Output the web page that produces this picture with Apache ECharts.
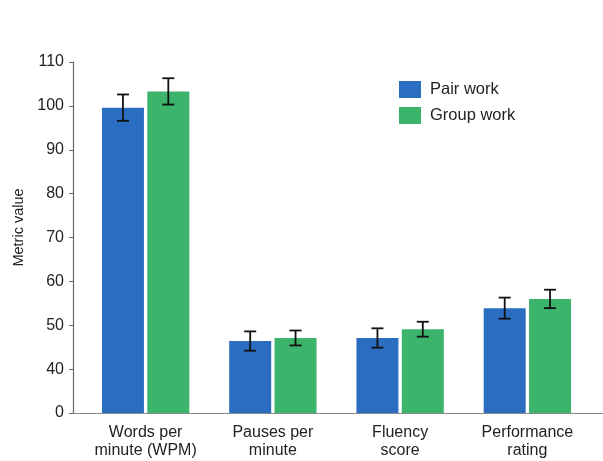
<!DOCTYPE html>
<html>
<head>
<meta charset="utf-8">
<script src="https://cdn.jsdelivr.net/npm/echarts@6/dist/echarts.min.js"></script>
<style>
  html, body { margin: 0; padding: 0; background: #fff; }
  #chart { width: 603px; height: 461px; }
</style>
</head>
<body>
<div id="chart"></div>
<script>
// Metrics compared between the two speaking-practice formats
const categories = ['Words per\nminute (WPM)', 'Pauses per\nminute', 'Fluency\nscore', 'Performance\nrating'];
const seriesNames = ['Pair work', 'Group work'];
const pairMeans = [99.6, 46.4, 47.1, 53.9];
const pairErrors = [3.0, 2.2, 2.2, 2.4];
const groupMeans = [103.3, 47.1, 49.1, 56.0];
const groupErrors = [3.0, 1.7, 1.7, 2.1];
const yTicks = [0, 40, 50, 60, 70, 80, 90, 100, 110];

// The value axis is broken: the span 0..40 is squeezed into one tick step,
// so the axis starts at 30 and that first tick is labelled "0".
const AXIS_START = 30;
const BAR_WIDTH = 42;
const BAR_GAP = 0.08;
const colors = ['#2b6dc1', '#3cb46b'];

function errorData(means, errs) {
  return means.map((m, i) => [i, m - errs[i], m + errs[i]]);
}

function errorBars(offsetSign) {
  return function (params, api) {
    const idx = api.value(0);
    const lo = api.coord([idx, api.value(1)]);
    const hi = api.coord([idx, api.value(2)]);
    const shift = offsetSign * (BAR_WIDTH * (1 + BAR_GAP)) / 2;
    const x = lo[0] + shift;
    const cap = 6;
    const style = { stroke: '#111', lineWidth: 1.8 };
    return {
      type: 'group',
      children: [
        { type: 'line', shape: { x1: x, y1: hi[1], x2: x, y2: lo[1] }, style },
        { type: 'line', shape: { x1: x - cap, y1: hi[1], x2: x + cap, y2: hi[1] }, style },
        { type: 'line', shape: { x1: x - cap, y1: lo[1], x2: x + cap, y2: lo[1] }, style }
      ]
    };
  };
}

const chart = echarts.init(document.getElementById('chart'), null, { renderer: 'canvas' });
const font = 'Liberation Sans, Arial, Helvetica, sans-serif';

chart.setOption({
  animation: false,
  textStyle: { fontFamily: font },
  legend: {
    orient: 'vertical',
    left: 394,
    top: 76,
    itemWidth: 22,
    itemHeight: 17,
    itemGap: 9,
    icon: 'rect',
    data: seriesNames,
    textStyle: { fontSize: 16.5, color: '#222', fontFamily: font, padding: [0, 0, 0, 4] }
  },
  grid: [
    { left: 82, right: 12, top: 62, bottom: 48, containLabel: false },
    { left: 73, right: 0, top: 62, bottom: 48, containLabel: false }
  ],
  xAxis: [
    {
      type: 'category',
      gridIndex: 0,
      data: categories,
      axisLine: { show: false },
      axisTick: { show: false },
      axisLabel: {
        fontSize: 16,
        color: '#222',
        lineHeight: 18,
        margin: 11,
        interval: 0,
        fontFamily: font
      }
    },
    {
      // baseline running the full width of the plot
      type: 'value',
      gridIndex: 1,
      min: 0,
      max: 1,
      axisLine: { show: true, lineStyle: { color: '#8a8a8a', width: 1.2 } },
      axisTick: { show: false },
      axisLabel: { show: false },
      splitLine: { show: false }
    }
  ],
  yAxis: [
    {
      type: 'value',
      gridIndex: 0,
      min: AXIS_START,
      max: 110,
      interval: 10,
      offset: 9,
      name: 'Metric value',
      nameLocation: 'middle',
      nameGap: 47,
      nameTextStyle: { fontSize: 14.5, color: '#222', fontFamily: font, padding: [0, 0, 0, 20] },
      axisLine: { show: true, lineStyle: { color: '#666', width: 1.2 } },
      axisTick: { show: true, length: 4, lineStyle: { color: '#666' } },
      axisLabel: {
        fontSize: 16,
        color: '#222',
        margin: 9,
        fontFamily: font,
        formatter: v => (v === AXIS_START ? String(yTicks[0]) : String(v))
      },
      splitLine: { show: false }
    },
    {
      type: 'value',
      gridIndex: 1,
      show: false,
      min: 0,
      max: 1
    }
  ],
  series: [
    {
      name: seriesNames[0],
      type: 'bar',
      xAxisIndex: 0,
      yAxisIndex: 0,
      data: pairMeans,
      barWidth: BAR_WIDTH,
      barGap: (BAR_GAP * 100) + '%',
      itemStyle: { color: colors[0] }
    },
    {
      name: seriesNames[1],
      type: 'bar',
      xAxisIndex: 0,
      yAxisIndex: 0,
      data: groupMeans,
      barWidth: BAR_WIDTH,
      barGap: (BAR_GAP * 100) + '%',
      itemStyle: { color: colors[1] }
    },
    {
      type: 'custom',
      xAxisIndex: 0,
      yAxisIndex: 0,
      renderItem: errorBars(-1),
      data: errorData(pairMeans, pairErrors),
      encode: { x: 0, y: [1, 2] },
      z: 5
    },
    {
      type: 'custom',
      xAxisIndex: 0,
      yAxisIndex: 0,
      renderItem: errorBars(1),
      data: errorData(groupMeans, groupErrors),
      encode: { x: 0, y: [1, 2] },
      z: 5
    }
  ]
});
</script>
</body>
</html>
